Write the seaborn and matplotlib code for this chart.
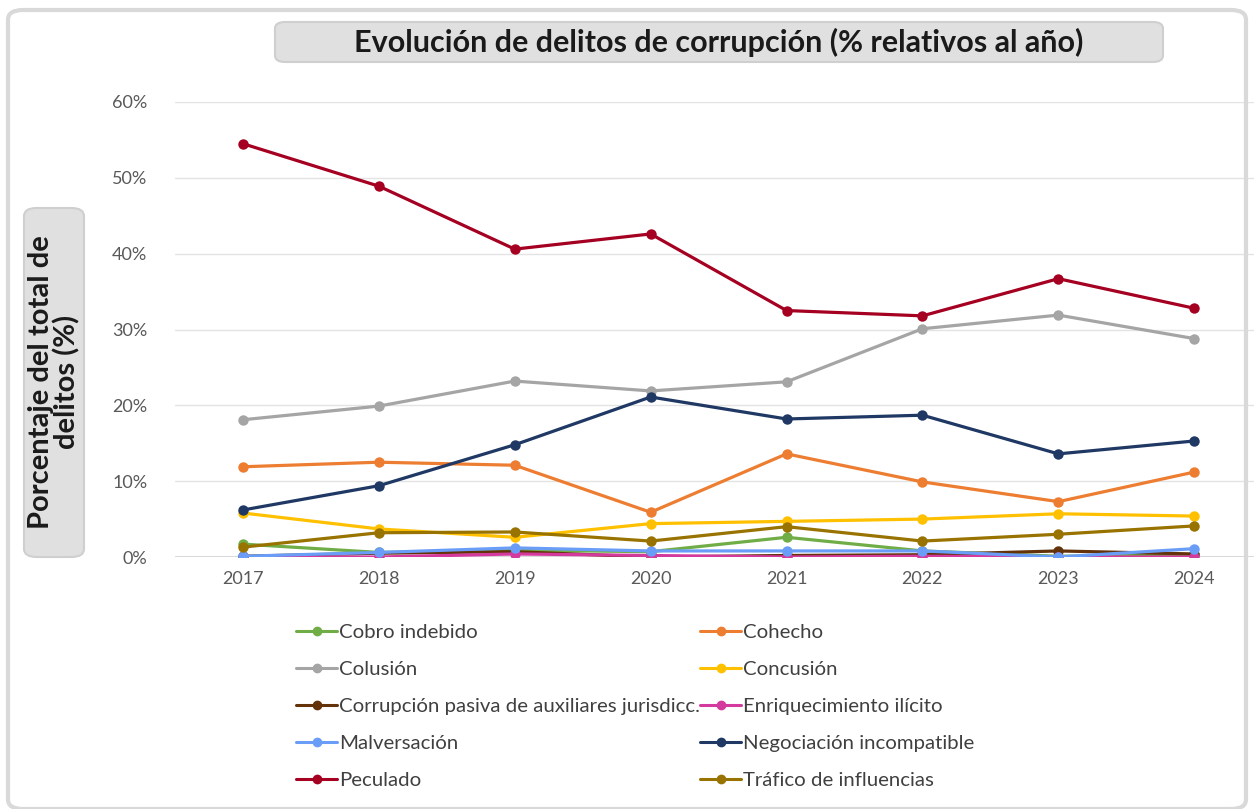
import pandas as pd
import seaborn as sns
import matplotlib.pyplot as plt
from matplotlib.patches import FancyBboxPatch
from matplotlib.ticker import PercentFormatter

sns.set_style('white')
plt.rcParams['font.family'] = ['Lato', 'DejaVu Sans']

anios = [2017, 2018, 2019, 2020, 2021, 2022, 2023, 2024]

cobro_indebido = [1.7, 0.6, 0.9, 0.7, 2.6, 0.8, 0.1, 0.3]
cohecho = [11.9, 12.5, 12.1, 5.9, 13.6, 9.9, 7.3, 11.2]
colusion = [18.1, 19.9, 23.2, 21.9, 23.1, 30.1, 31.9, 28.8]
concusion = [5.8, 3.7, 2.6, 4.4, 4.7, 5.0, 5.7, 5.4]
corrupcion_pasiva = [0.1, 0.5, 0.7, 0.0, 0.2, 0.3, 0.8, 0.4]
enriquecimiento = [0.0, 0.0, 0.4, 0.2, 0.0, 0.1, 0.0, 0.0]
malversacion = [0.1, 0.6, 1.2, 0.8, 0.8, 0.8, 0.0, 1.1]
negociacion = [6.2, 9.4, 14.8, 21.1, 18.2, 18.7, 13.6, 15.3]
peculado = [54.5, 48.9, 40.6, 42.6, 32.5, 31.8, 36.7, 32.8]
trafico = [1.3, 3.2, 3.3, 2.1, 4.0, 2.1, 3.0, 4.1]

series = {
    'Cobro indebido': cobro_indebido,
    'Cohecho': cohecho,
    'Colusión': colusion,
    'Concusión': concusion,
    'Corrupción pasiva de auxiliares jurisdicc.': corrupcion_pasiva,
    'Enriquecimiento ilícito': enriquecimiento,
    'Malversación': malversacion,
    'Negociación incompatible': negociacion,
    'Peculado': peculado,
    'Tráfico de influencias': trafico,
}
colores = {
    'Cobro indebido': '#70AD47',
    'Cohecho': '#ED7D31',
    'Colusión': '#A5A5A5',
    'Concusión': '#FFC000',
    'Corrupción pasiva de auxiliares jurisdicc.': '#633208',
    'Enriquecimiento ilícito': '#D43A9E',
    'Malversación': '#6A9DF7',
    'Negociación incompatible': '#1F3864',
    'Peculado': '#A50021',
    'Tráfico de influencias': '#997300',
}

filas = []
for nombre, valores in series.items():
    for a, v in zip(anios, valores):
        filas.append({'anio': a, 'pct': v / 100, 'delito': nombre})
df = pd.DataFrame(filas)

fig = plt.figure(figsize=(12.54, 8.09), dpi=100)
ax = fig.add_axes([175 / 1254, 1 - 557 / 809, 1079 / 1254, (557 - 102) / 809])

sns.lineplot(data=df, x='anio', y='pct', hue='delito', palette=colores,
             marker='o', markersize=7.5, markeredgewidth=0, linewidth=2.3,
             ax=ax, legend=False)

ax.set_xlim(2016.5, 2016.5 + 1079 / 135.9)
ax.set_ylim(0, 0.6)
ax.set_yticks([0, 0.1, 0.2, 0.3, 0.4, 0.5, 0.6])
ax.yaxis.set_major_formatter(PercentFormatter(1.0, decimals=0))
ax.set_xticks(anios)
ax.set_xlabel('')
ax.set_ylabel('')
ax.tick_params(axis='both', labelsize=13, colors='#595959', length=0, pad=10)
ax.tick_params(axis='y', pad=20)
ax.grid(axis='y', color='#E3E3E3', linewidth=1)
ax.axhline(0, color='#D0D0D0', linewidth=1.2, zorder=0)
for s in ax.spines.values():
    s.set_visible(False)

# leyenda fila por fila, como en la original
orden = ['Cobro indebido', 'Colusión', 'Corrupción pasiva de auxiliares jurisdicc.',
         'Malversación', 'Peculado', 'Cohecho', 'Concusión', 'Enriquecimiento ilícito',
         'Negociación incompatible', 'Tráfico de influencias']
handles = [plt.Line2D([], [], color=colores[n], marker='o', markersize=6,
                      linewidth=2.2) for n in orden]
fig.legend(handles, orden, ncol=2, loc='upper left',
           bbox_to_anchor=(278 / 1254, 1 - 605 / 809), frameon=False,
           fontsize=14.7, labelcolor='#404040', handlelength=2.0,
           handletextpad=0.1, columnspacing=0.0, labelspacing=0.97)

# marco exterior
fig.patches.append(FancyBboxPatch((8 / 1254, 0), 1238 / 1254, 1 - 10 / 809,
                                  boxstyle='round,pad=0,rounding_size=0.012',
                                  transform=fig.transFigure, facecolor='none',
                                  edgecolor='#D9D9D9', linewidth=3))
# caja del titulo
fig.patches.append(FancyBboxPatch((275 / 1254, 1 - 62 / 809), 888 / 1254, 40 / 809,
                                  boxstyle='round,pad=0,rounding_size=0.008',
                                  transform=fig.transFigure, facecolor='#E0E0E0',
                                  edgecolor='#CFCFCF', linewidth=1.5))
fig.text(719 / 1254, 1 - 42 / 809, 'Evolución de delitos de corrupción (% relativos al año)',
         ha='center', va='center', fontsize=22, fontweight='bold', color='#1a1a1a')
# caja del eje y
fig.patches.append(FancyBboxPatch((24 / 1254, 1 - 557 / 809), 60 / 1254, 349 / 809,
                                  boxstyle='round,pad=0,rounding_size=0.01',
                                  transform=fig.transFigure, facecolor='#E0E0E0',
                                  edgecolor='#CFCFCF', linewidth=1.5))
fig.text(54 / 1254, 1 - 382 / 809, 'Porcentaje del total de\ndelitos (%)',
         ha='center', va='center', rotation=90, fontsize=21, fontweight='bold',
         color='#1a1a1a', linespacing=0.95)

fig.savefig('out.png', dpi=100)
